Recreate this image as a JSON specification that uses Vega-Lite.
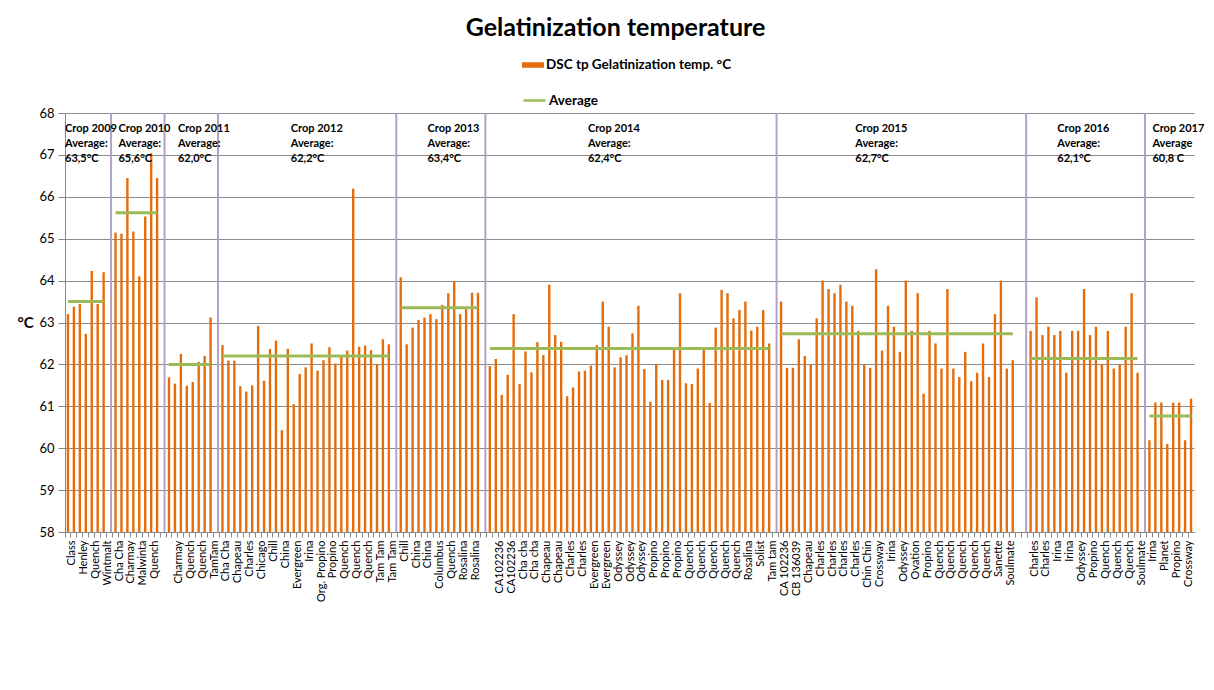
{
  "$schema": "https://vega.github.io/schema/vega-lite/v6.json",
  "width": 1129,
  "height": 419,
  "autosize": {"type": "none"},
  "padding": {"left": 65, "top": 113, "right": 20, "bottom": 158},
  "background": "white",
  "config": {"font": "Lato", "view": {"stroke": null}},
  "title": {"text": "Gelatinization temperature", "fontSize": 25, "fontWeight": "bold", "font": "Lato", "color": "#000", "anchor": "middle", "frame": "group", "dx": -14, "offset": 13},
  "datasets": {
    "slots": [
      {"slot":"000|Class","crop":"2009","temp":63.2},
      {"slot":"001|","crop":"2009","temp":63.38},
      {"slot":"002|Henley","crop":"2009","temp":63.44},
      {"slot":"003|","crop":"2009","temp":62.73},
      {"slot":"004|Quench","crop":"2009","temp":64.23},
      {"slot":"005|","crop":"2009","temp":63.44},
      {"slot":"006|Wintmalt","crop":"2009","temp":64.2},
      {"slot":"007|","crop":null,"temp":null},
      {"slot":"008|Cha Cha","crop":"2010","temp":65.15},
      {"slot":"009|","crop":"2010","temp":65.12},
      {"slot":"010|Charmay","crop":"2010","temp":66.45},
      {"slot":"011|","crop":"2010","temp":65.17},
      {"slot":"012|Malwinta","crop":"2010","temp":64.1},
      {"slot":"013|","crop":"2010","temp":65.53},
      {"slot":"014|Quench","crop":"2010","temp":67.04},
      {"slot":"015|","crop":"2010","temp":66.45},
      {"slot":"016|","crop":null,"temp":null},
      {"slot":"017|","crop":"2011","temp":61.69},
      {"slot":"018|Charmay","crop":"2011","temp":61.54},
      {"slot":"019|","crop":"2011","temp":62.25},
      {"slot":"020|Quench","crop":"2011","temp":61.49},
      {"slot":"021|","crop":"2011","temp":61.58},
      {"slot":"022|Quench","crop":"2011","temp":62.06},
      {"slot":"023|","crop":"2011","temp":62.2},
      {"slot":"024|TamTam","crop":"2011","temp":63.12},
      {"slot":"025|","crop":null,"temp":null},
      {"slot":"026|Cha Cha","crop":"2012","temp":62.46},
      {"slot":"027|","crop":"2012","temp":62.09},
      {"slot":"028|Chapeau","crop":"2012","temp":62.09},
      {"slot":"029|","crop":"2012","temp":61.48},
      {"slot":"030|Charles","crop":"2012","temp":61.35},
      {"slot":"031|","crop":"2012","temp":61.5},
      {"slot":"032|Chicago","crop":"2012","temp":62.92},
      {"slot":"033|","crop":"2012","temp":61.61},
      {"slot":"034|Chill","crop":"2012","temp":62.37},
      {"slot":"035|","crop":"2012","temp":62.57},
      {"slot":"036|China","crop":"2012","temp":60.43},
      {"slot":"037|","crop":"2012","temp":62.37},
      {"slot":"038|Evergreen","crop":"2012","temp":61.05},
      {"slot":"039|","crop":"2012","temp":61.77},
      {"slot":"040|Irina","crop":"2012","temp":61.93},
      {"slot":"041|","crop":"2012","temp":62.5},
      {"slot":"042|Org. Propino","crop":"2012","temp":61.85},
      {"slot":"043|","crop":"2012","temp":62.1},
      {"slot":"044|Propino","crop":"2012","temp":62.41},
      {"slot":"045|","crop":"2012","temp":62.02},
      {"slot":"046|Quench","crop":"2012","temp":62.18},
      {"slot":"047|","crop":"2012","temp":62.33},
      {"slot":"048|Quench","crop":"2012","temp":66.19},
      {"slot":"049|","crop":"2012","temp":62.42},
      {"slot":"050|Quench","crop":"2012","temp":62.45},
      {"slot":"051|","crop":"2012","temp":62.34},
      {"slot":"052|Tam Tam","crop":"2012","temp":62.01},
      {"slot":"053|","crop":"2012","temp":62.6},
      {"slot":"054|Tam Tam","crop":"2012","temp":62.48},
      {"slot":"055|","crop":null,"temp":null},
      {"slot":"056|Chill","crop":"2013","temp":64.08},
      {"slot":"057|","crop":"2013","temp":62.48},
      {"slot":"058|China","crop":"2013","temp":62.88},
      {"slot":"059|","crop":"2013","temp":63.06},
      {"slot":"060|China","crop":"2013","temp":63.12},
      {"slot":"061|","crop":"2013","temp":63.2},
      {"slot":"062|Columbus","crop":"2013","temp":63.08},
      {"slot":"063|","crop":"2013","temp":63.42},
      {"slot":"064|Quench","crop":"2013","temp":63.7},
      {"slot":"065|","crop":"2013","temp":63.98},
      {"slot":"066|Rosalina","crop":"2013","temp":63.2},
      {"slot":"067|","crop":"2013","temp":63.32},
      {"slot":"068|Rosalina","crop":"2013","temp":63.71},
      {"slot":"069|","crop":"2013","temp":63.71},
      {"slot":"070|","crop":null,"temp":null},
      {"slot":"071|","crop":"2014","temp":61.96},
      {"slot":"072|CA102236","crop":"2014","temp":62.13},
      {"slot":"073|","crop":"2014","temp":61.27},
      {"slot":"074|CA102236","crop":"2014","temp":61.75},
      {"slot":"075|","crop":"2014","temp":63.2},
      {"slot":"076|Cha cha","crop":"2014","temp":61.53},
      {"slot":"077|","crop":"2014","temp":62.31},
      {"slot":"078|Cha cha","crop":"2014","temp":61.81},
      {"slot":"079|","crop":"2014","temp":62.53},
      {"slot":"080|Chapeau","crop":"2014","temp":62.22},
      {"slot":"081|","crop":"2014","temp":63.9},
      {"slot":"082|Chapeau","crop":"2014","temp":62.7},
      {"slot":"083|","crop":"2014","temp":62.54},
      {"slot":"084|Charles","crop":"2014","temp":61.24},
      {"slot":"085|","crop":"2014","temp":61.45},
      {"slot":"086|Charles","crop":"2014","temp":61.83},
      {"slot":"087|","crop":"2014","temp":61.85},
      {"slot":"088|Evergreen","crop":"2014","temp":61.97},
      {"slot":"089|","crop":"2014","temp":62.46},
      {"slot":"090|Evergreen","crop":"2014","temp":63.5},
      {"slot":"091|","crop":"2014","temp":62.9},
      {"slot":"092|Odyssey","crop":"2014","temp":61.93},
      {"slot":"093|","crop":"2014","temp":62.17},
      {"slot":"094|Odyssey","crop":"2014","temp":62.22},
      {"slot":"095|","crop":"2014","temp":62.74},
      {"slot":"096|Odyssey","crop":"2014","temp":63.4},
      {"slot":"097|","crop":"2014","temp":61.89},
      {"slot":"098|Propino","crop":"2014","temp":61.11},
      {"slot":"099|","crop":"2014","temp":62.01},
      {"slot":"100|Propino","crop":"2014","temp":61.63},
      {"slot":"101|","crop":"2014","temp":61.63},
      {"slot":"102|Propino","crop":"2014","temp":62.37},
      {"slot":"103|","crop":"2014","temp":63.7},
      {"slot":"104|Quench","crop":"2014","temp":61.55},
      {"slot":"105|","crop":"2014","temp":61.53},
      {"slot":"106|Quench","crop":"2014","temp":61.9},
      {"slot":"107|","crop":"2014","temp":62.37},
      {"slot":"108|Quench","crop":"2014","temp":61.08},
      {"slot":"109|","crop":"2014","temp":62.88},
      {"slot":"110|Quench","crop":"2014","temp":63.78},
      {"slot":"111|","crop":"2014","temp":63.7},
      {"slot":"112|Quench","crop":"2014","temp":63.1},
      {"slot":"113|","crop":"2014","temp":63.3},
      {"slot":"114|Rosalina","crop":"2014","temp":63.5},
      {"slot":"115|","crop":"2014","temp":62.81},
      {"slot":"116|Solist","crop":"2014","temp":62.9},
      {"slot":"117|","crop":"2014","temp":63.3},
      {"slot":"118|Tam tam","crop":"2014","temp":62.5},
      {"slot":"119|","crop":null,"temp":null},
      {"slot":"120|CA 102236","crop":"2015","temp":63.5},
      {"slot":"121|","crop":"2015","temp":61.92},
      {"slot":"122|CB 136039","crop":"2015","temp":61.92},
      {"slot":"123|","crop":"2015","temp":62.6},
      {"slot":"124|Chapeau","crop":"2015","temp":62.2},
      {"slot":"125|","crop":"2015","temp":62.0},
      {"slot":"126|Charles","crop":"2015","temp":63.1},
      {"slot":"127|","crop":"2015","temp":64.0},
      {"slot":"128|Charles","crop":"2015","temp":63.8},
      {"slot":"129|","crop":"2015","temp":63.7},
      {"slot":"130|Charles","crop":"2015","temp":63.9},
      {"slot":"131|","crop":"2015","temp":63.5},
      {"slot":"132|Charles","crop":"2015","temp":63.4},
      {"slot":"133|","crop":"2015","temp":62.8},
      {"slot":"134|Chin Chin","crop":"2015","temp":62.0},
      {"slot":"135|","crop":"2015","temp":61.92},
      {"slot":"136|Crossway","crop":"2015","temp":64.27},
      {"slot":"137|","crop":"2015","temp":62.33},
      {"slot":"138|Irina","crop":"2015","temp":63.4},
      {"slot":"139|","crop":"2015","temp":62.9},
      {"slot":"140|Odyssey","crop":"2015","temp":62.3},
      {"slot":"141|","crop":"2015","temp":64.0},
      {"slot":"142|Ovation","crop":"2015","temp":62.8},
      {"slot":"143|","crop":"2015","temp":63.7},
      {"slot":"144|Propino","crop":"2015","temp":61.3},
      {"slot":"145|","crop":"2015","temp":62.8},
      {"slot":"146|Quench","crop":"2015","temp":62.5},
      {"slot":"147|","crop":"2015","temp":61.9},
      {"slot":"148|Quench","crop":"2015","temp":63.8},
      {"slot":"149|","crop":"2015","temp":61.9},
      {"slot":"150|Quench","crop":"2015","temp":61.7},
      {"slot":"151|","crop":"2015","temp":62.3},
      {"slot":"152|Quench","crop":"2015","temp":61.6},
      {"slot":"153|","crop":"2015","temp":61.8},
      {"slot":"154|Quench","crop":"2015","temp":62.5},
      {"slot":"155|","crop":"2015","temp":61.7},
      {"slot":"156|Sanette","crop":"2015","temp":63.2},
      {"slot":"157|","crop":"2015","temp":64.0},
      {"slot":"158|Soulmate","crop":"2015","temp":61.9},
      {"slot":"159|","crop":"2015","temp":62.1},
      {"slot":"160|","crop":"2015","temp":null},
      {"slot":"161|","crop":null,"temp":null},
      {"slot":"162|Charles","crop":"2016","temp":62.8},
      {"slot":"163|","crop":"2016","temp":63.6},
      {"slot":"164|Charles","crop":"2016","temp":62.7},
      {"slot":"165|","crop":"2016","temp":62.9},
      {"slot":"166|Irina","crop":"2016","temp":62.7},
      {"slot":"167|","crop":"2016","temp":62.8},
      {"slot":"168|Irina","crop":"2016","temp":61.8},
      {"slot":"169|","crop":"2016","temp":62.8},
      {"slot":"170|Odyssey","crop":"2016","temp":62.8},
      {"slot":"171|","crop":"2016","temp":63.8},
      {"slot":"172|Propino","crop":"2016","temp":62.7},
      {"slot":"173|","crop":"2016","temp":62.9},
      {"slot":"174|Quench","crop":"2016","temp":62.0},
      {"slot":"175|","crop":"2016","temp":62.8},
      {"slot":"176|Quench","crop":"2016","temp":61.9},
      {"slot":"177|","crop":"2016","temp":62.0},
      {"slot":"178|Quench","crop":"2016","temp":62.9},
      {"slot":"179|","crop":"2016","temp":63.7},
      {"slot":"180|Soulmate","crop":"2016","temp":61.8},
      {"slot":"181|","crop":null,"temp":null},
      {"slot":"182|Irina","crop":"2017","temp":60.19},
      {"slot":"183|","crop":"2017","temp":61.09},
      {"slot":"184|Planet","crop":"2017","temp":61.09},
      {"slot":"185|","crop":"2017","temp":60.1},
      {"slot":"186|Propino","crop":"2017","temp":61.09},
      {"slot":"187|","crop":"2017","temp":61.09},
      {"slot":"188|Crossway","crop":"2017","temp":60.19},
      {"slot":"189|","crop":"2017","temp":61.18}
    ],
    "averages": [
      {"crop":"2009","first":"000|Class","last":"006|Wintmalt","avg":63.5},
      {"crop":"2010","first":"008|Cha Cha","last":"015|","avg":65.62},
      {"crop":"2011","first":"017|","last":"024|TamTam","avg":62.0},
      {"crop":"2012","first":"026|Cha Cha","last":"054|Tam Tam","avg":62.2},
      {"crop":"2013","first":"056|Chill","last":"069|","avg":63.35},
      {"crop":"2014","first":"071|","last":"118|Tam tam","avg":62.38},
      {"crop":"2015","first":"120|CA 102236","last":"159|","avg":62.73},
      {"crop":"2016","first":"162|Charles","last":"180|Soulmate","avg":62.14},
      {"crop":"2017","first":"182|Irina","last":"189|","avg":60.77}
    ],
    "notes": [
      {"slot":"000|Class","note":"Crop 2009\nAverage:\n63,5°C"},
      {"slot":"009|","note":"Crop 2010\nAverage:\n65,6°C"},
      {"slot":"019|","note":"Crop 2011\nAverage:\n62,0°C"},
      {"slot":"038|Evergreen","note":"Crop 2012\nAverage:\n62,2°C"},
      {"slot":"061|","note":"Crop 2013\nAverage:\n63,4°C"},
      {"slot":"088|Evergreen","note":"Crop 2014\nAverage:\n62,4°C"},
      {"slot":"133|","note":"Crop 2015\nAverage:\n62,7°C"},
      {"slot":"167|","note":"Crop 2016\nAverage:\n62,1°C"},
      {"slot":"183|","note":"Crop 2017\nAverage\n60,8 C"}
    ]
  },
  "layer": [
    {
      "data": {"name": "slots"},
      "mark": {"type": "rule", "strokeWidth": 2},
      "encoding": {
        "x": {"field": "slot", "type": "nominal", "bandPosition": 0.75,
          "axis": {"title": null, "labelExpr": "slice(datum.value, 4)", "labelAngle": -90, "labelFontSize": 11, "labelFont": "Lato", "labelColor": "#000", "labelPadding": 3, "labelOffset": 4, "bandPosition": 0, "tickSize": 5, "tickColor": "#888", "domainColor": "#888", "labelOverlap": false, "labelBound": false, "grid": false}},
        "stroke": {"value": "#B3A2C7"},
        "strokeOpacity": {"condition": {"test": "datum.crop == null", "value": 1}, "value": 0}
      }
    },
    {
      "data": {"name": "slots"},
      "mark": {"type": "bar", "width": {"band": 0.4}},
      "encoding": {
        "x": {"field": "slot", "type": "nominal"},
        "y": {"field": "temp", "type": "quantitative",
          "scale": {"domain": [58, 68], "nice": false, "zero": false},
          "axis": {"title": "°C", "values": [58,59,60,61,62,63,64,65,66,67,68], "grid": true, "gridColor": "#8c8c8c", "gridWidth": 1, "domainColor": "#888", "tickColor": "#888", "tickSize": 7, "labelPadding": 4, "labelFontSize": 13, "labelFont": "Lato", "labelColor": "#000", "titleAngle": 0, "titleFontSize": 15, "titleFontWeight": "bold", "titleFont": "Lato", "titleColor": "#000", "titleX": -40, "titleY": 209, "titleAlign": "center", "titleBaseline": "middle"}},
        "y2": {"datum": 58},
        "fill": {"datum": "DSC tp Gelatinization temp. °C", "type": "nominal",
          "scale": {"range": ["#E46C0A"]},
          "legend": {"title": null, "orient": "none", "legendX": 457, "legendY": -59, "symbolType": "M-1,-0.25H1V0.25H-1Z", "symbolSize": 484, "symbolStrokeWidth": 0, "labelFontSize": 13.5, "labelFontWeight": "bold", "labelFont": "Lato", "labelColor": "#000", "labelOffset": 2, "labelLimit": 400, "padding": 0}}
      }
    },
    {
      "data": {"name": "averages"},
      "mark": {"type": "rule", "strokeWidth": 3},
      "encoding": {
        "x": {"field": "first", "type": "nominal"},
        "x2": {"field": "last"},
        "y": {"field": "avg", "type": "quantitative"},
        "stroke": {"datum": "Average", "type": "nominal",
          "scale": {"range": ["#9BBB59"]},
          "legend": {"title": null, "orient": "none", "legendX": 457, "legendY": -25, "symbolType": "stroke", "symbolSize": 484, "symbolStrokeWidth": 2.5, "labelFontSize": 13.5, "labelFontWeight": "bold", "labelFont": "Lato", "labelColor": "#000", "labelOffset": 2, "labelLimit": 400, "padding": 0}}
      }
    },
    {
      "data": {"name": "notes"},
      "mark": {"type": "text", "align": "left", "baseline": "top", "lineBreak": "\n", "lineHeight": 15, "fontSize": 11, "fontWeight": "bold", "font": "Lato", "color": "#000"},
      "encoding": {
        "x": {"field": "slot", "type": "nominal", "bandPosition": 0},
        "y": {"datum": 67.76, "type": "quantitative"},
        "text": {"field": "note", "type": "nominal"}
      }
    }
  ]
}
